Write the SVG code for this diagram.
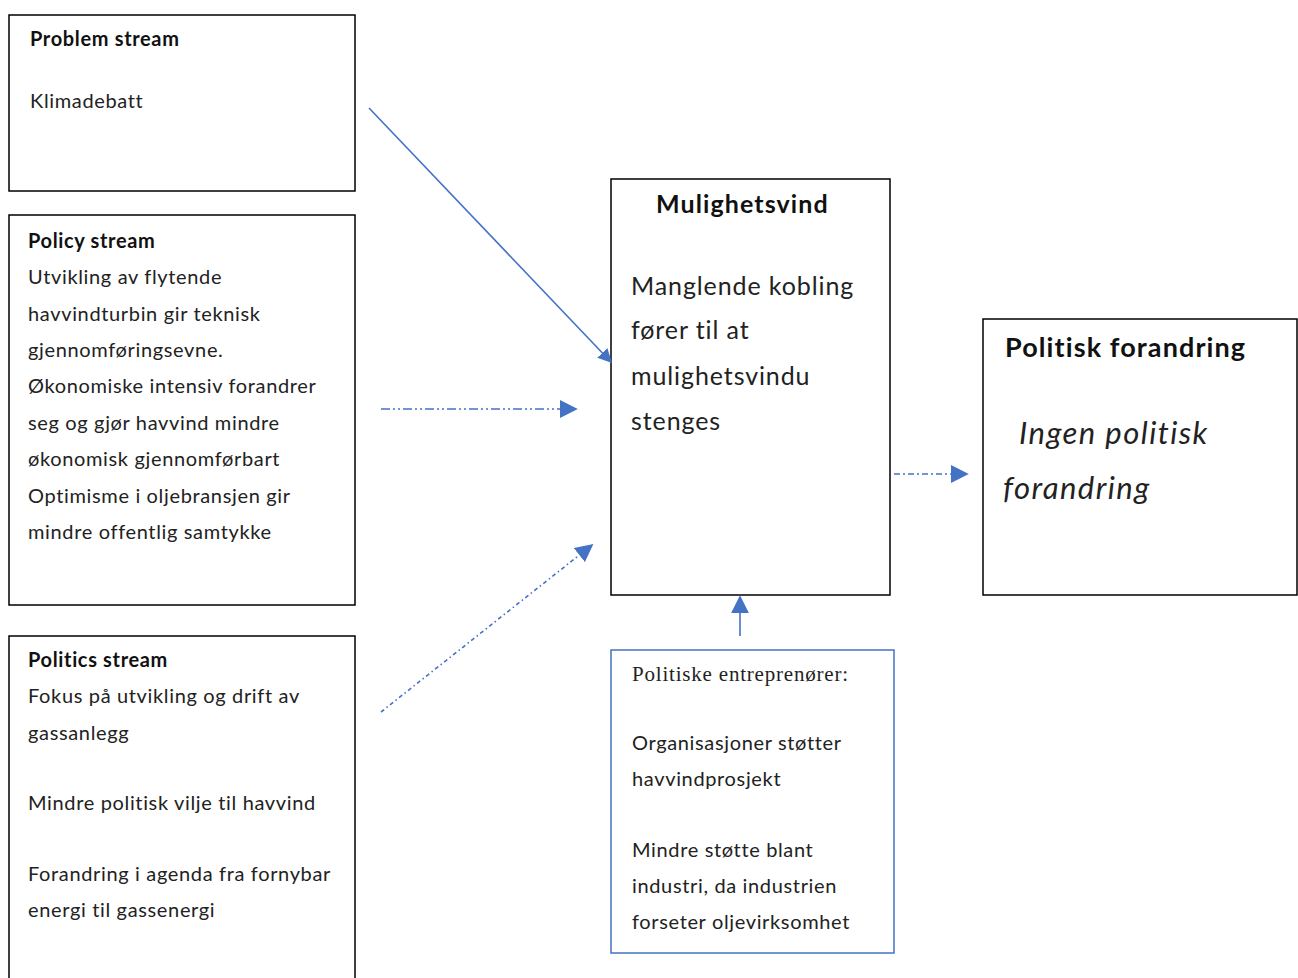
<svg xmlns="http://www.w3.org/2000/svg" width="1298" height="978" viewBox="0 0 1298 978">
  <style>
    .box { fill: #fff; stroke: #000; stroke-width: 1.5; }
    .bluebox { fill: #fff; stroke: #4472c4; stroke-width: 1.5; }
    .t { font-family: Lato, "Open Sans", sans-serif; font-size: 20px; letter-spacing: 0.65px; fill: #222; }
    .b { font-weight: bold; fill: #111; }
    .big { font-size: 25px; letter-spacing: 0.9px; }
    .ital { font-size: 31px; font-style: italic; letter-spacing: 1.45px; }
    .ser { font-family: "Liberation Serif", serif; font-size: 21px; letter-spacing: 0.8px; fill: #222; }
    .conn { stroke: #4472c4; stroke-width: 1.6; fill: none; }
  </style>
  <defs>
    <marker id="arr" viewBox="0 0 10 10" refX="9" refY="5" markerWidth="14" markerHeight="14" markerUnits="userSpaceOnUse" orient="auto">
      <path d="M0,0 L10,5 L0,10 z" fill="#4472c4"/>
    </marker>
    <marker id="arrL" viewBox="0 0 10 10" refX="9" refY="5" markerWidth="18" markerHeight="18" markerUnits="userSpaceOnUse" orient="auto">
      <path d="M0,0 L10,5 L0,10 z" fill="#4472c4"/>
    </marker>
  </defs>
  <rect width="1298" height="978" fill="#fff"/>

  <g id="problem-stream">
    <rect class="box" x="9" y="15" width="346" height="176"/>
    <text class="t b" x="30" y="46">Problem stream</text>
    <text class="t" x="30" y="108">Klimadebatt</text>
  </g>

  <g id="policy-stream">
    <rect class="box" x="9" y="215" width="346" height="390"/>
    <text class="t b" x="28" y="248">Policy stream</text>
    <text class="t" x="28" y="284">Utvikling av flytende</text>
    <text class="t" x="28" y="321">havvindturbin gir teknisk</text>
    <text class="t" x="28" y="357">gjennomføringsevne.</text>
    <text class="t" x="28" y="393">Økonomiske intensiv forandrer</text>
    <text class="t" x="28" y="430">seg og gjør havvind mindre</text>
    <text class="t" x="28" y="466">økonomisk gjennomførbart</text>
    <text class="t" x="28" y="503">Optimisme i oljebransjen gir</text>
    <text class="t" x="28" y="539">mindre offentlig samtykke</text>
  </g>

  <g id="politics-stream">
    <rect class="box" x="9" y="636" width="346" height="360"/>
    <text class="t b" x="28" y="667">Politics stream</text>
    <text class="t" x="28" y="703">Fokus på utvikling og drift av</text>
    <text class="t" x="28" y="740">gassanlegg</text>
    <text class="t" x="28" y="810">Mindre politisk vilje til havvind</text>
    <text class="t" x="28" y="881">Forandring i agenda fra fornybar</text>
    <text class="t" x="28" y="917">energi til gassenergi</text>
  </g>

  <g id="mulighetsvind">
    <rect class="box" x="611" y="179" width="279" height="416"/>
    <text class="t b big" x="656" y="213" style="letter-spacing:1.1px">Mulighetsvind</text>
    <text class="t big" x="631" y="295">Manglende kobling</text>
    <text class="t big" x="631" y="339">fører til at</text>
    <text class="t big" x="631" y="385">mulighetsvindu</text>
    <text class="t big" x="631" y="430">stenges</text>
  </g>

  <g id="politisk-forandring">
    <rect class="box" x="983" y="319" width="314" height="276"/>
    <text class="t b" x="1005" y="357" style="font-size:27px;letter-spacing:1.1px">Politisk forandring</text>
    <text class="t ital" x="1019" y="444">Ingen politisk</text>
    <text class="t ital" x="1003" y="499">forandring</text>
  </g>

  <g id="entreprenorer">
    <rect class="bluebox" x="611" y="650" width="283" height="303"/>
    <text class="ser" x="632" y="681">Politiske entreprenører:</text>
    <text class="t" x="632" y="750">Organisasjoner støtter</text>
    <text class="t" x="632" y="786">havvindprosjekt</text>
    <text class="t" x="632" y="857">Mindre støtte blant</text>
    <text class="t" x="632" y="893">industri, da industrien</text>
    <text class="t" x="632" y="929">forseter oljevirksomhet</text>
  </g>

  <g id="connectors">
    <line class="conn" x1="369" y1="108" x2="611" y2="362" marker-end="url(#arr)"/>
    <line class="conn" x1="381" y1="409" x2="576" y2="409" stroke-dasharray="9,3,2,3,2,3" marker-end="url(#arrL)"/>
    <line class="conn" x1="381" y1="712" x2="592" y2="545" stroke-dasharray="4,3,1.5,3" marker-end="url(#arrL)"/>
    <line class="conn" x1="894" y1="474" x2="967" y2="474" stroke-dasharray="6,3,2,3" marker-end="url(#arrL)"/>
    <line class="conn" x1="740" y1="636" x2="740" y2="597" marker-end="url(#arrL)"/>
  </g>
</svg>
